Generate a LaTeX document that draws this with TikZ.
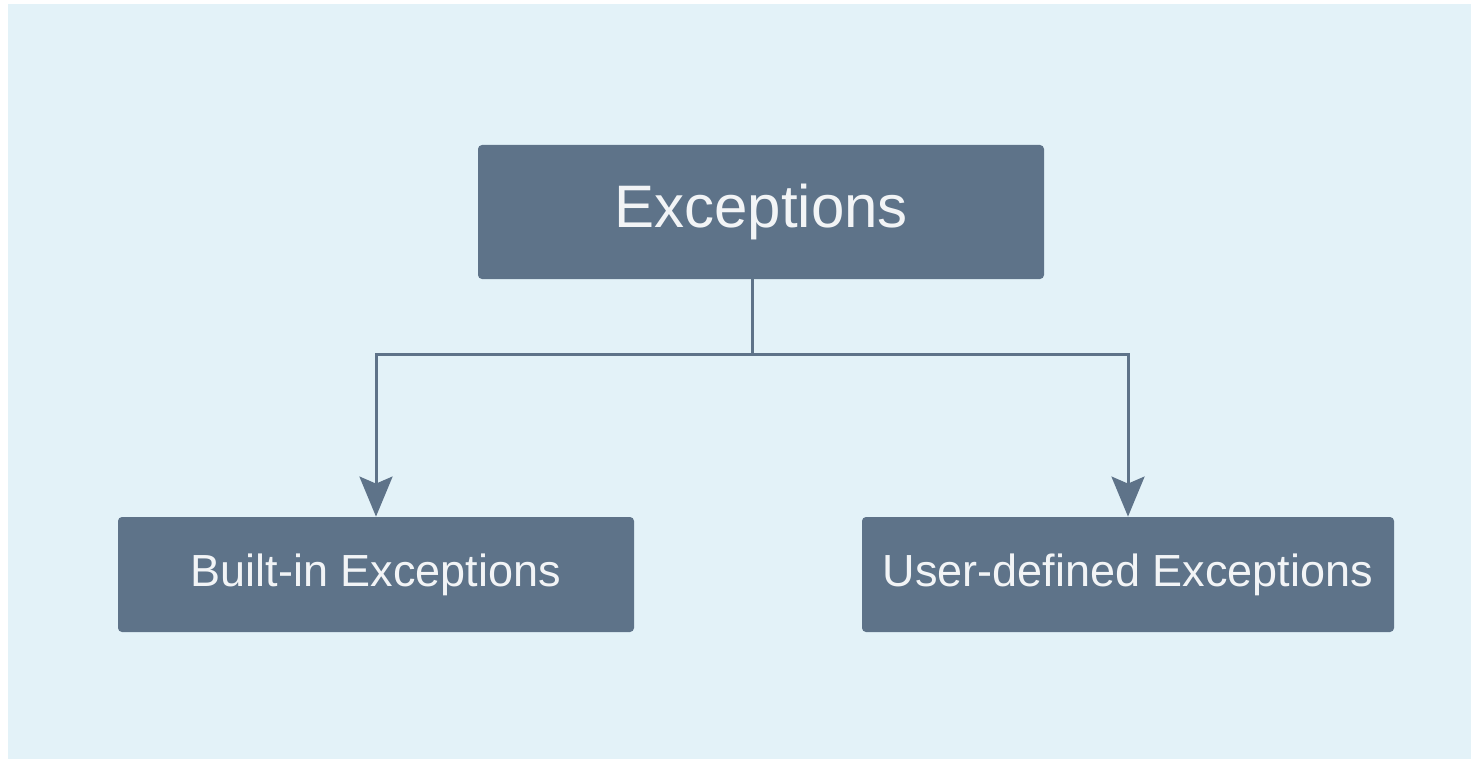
\documentclass[tikz,border=0pt]{standalone}
\usepackage{fontspec}
\setmainfont{Liberation Sans}
\usetikzlibrary{arrows.meta,positioning,calc}
\definecolor{ExcSlate}{HTML}{5E7389}
\definecolor{ExcBack}{HTML}{E3F2F8}
\definecolor{ExcText}{HTML}{F2F4F6}

\begin{document}
\begin{tikzpicture}[x=0.5pt,y=-0.5pt]
    \tikzset{exbox/.style={rounded corners=2pt,fill=ExcSlate,text=ExcText,inner sep=0pt,align=center}}
    \path[use as bounding box,fill=white] (0,0) rectangle (1471,759);
    \fill[ExcBack] (8,4) rectangle (1471,759);
    \node[exbox,minimum width=283pt,minimum height=67pt,font=\fontsize{30}{36}\selectfont] (root) at (761,212) {Exceptions};
    \node[exbox,minimum width=258pt,minimum height=57.5pt,font=\fontsize{22.5}{27}\selectfont] (builtin) at (376,574.5) {Built-in Exceptions};
    \node[exbox,minimum width=266pt,minimum height=57.5pt,font=\fontsize{22.5}{27}\selectfont] (userdef) at (1128,574.5) {User-defined Exceptions};
    \coordinate (split) at ($(builtin.north)!0.5!(userdef.north)+(0,-162)$);
    \draw[ExcSlate,line width=1.5pt] (root.south -| split)--(split);
    \draw[-{Stealth[length=20pt,width=16.5pt,inset=3.5pt]},ExcSlate,line width=1.5pt] (split) -| (builtin.north);
    \draw[-{Stealth[length=20pt,width=16.5pt,inset=3.5pt]},ExcSlate,line width=1.5pt] (split) -| (userdef.north);
  \end{tikzpicture}
\end{document}
